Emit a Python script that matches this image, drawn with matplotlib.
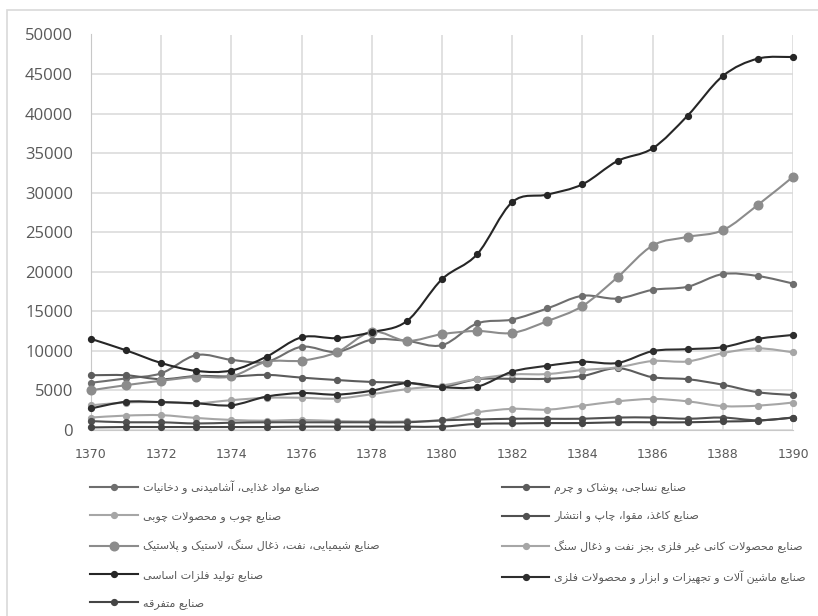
import numpy as np
import matplotlib
matplotlib.use("Agg")
import matplotlib.pyplot as plt
from matplotlib.path import Path
from matplotlib.patches import PathPatch, Rectangle
from matplotlib.lines import Line2D

years = list(range(1370, 1391))

food = [5950, 6500, 7150, 9450, 8850, 8600, 10500, 9850, 11400, 11250, 10700,
        13450, 13950, 15350, 16950, 16600, 17700, 18100, 19700, 19450, 18500]
textile = [6900, 6900, 6400, 6800, 6750, 6950, 6600, 6300, 6050, 5950, 5450,
           6400, 6450, 6450, 6800, 7800, 6650, 6400, 5700, 4750, 4400]
wood = [1550, 1800, 1850, 1500, 1250, 1150, 1250, 1100, 1050, 1050, 1200,
        2200, 2650, 2550, 3050, 3600, 3900, 3600, 3000, 3050, 3450]
paper = [1100, 950, 950, 800, 900, 950, 950, 950, 950, 950, 1200,
         1300, 1400, 1400, 1400, 1550, 1550, 1400, 1550, 1200, 1550]
chemical = [5000, 5650, 6200, 6700, 6750, 8600, 8750, 9800, 12400, 11250, 12100,
            12500, 12250, 13750, 15650, 19300, 23300, 24400, 25250, 28450, 32000]
nonmetal = [3100, 3450, 3500, 3350, 3750, 4050, 4050, 3950, 4500, 5150, 5600,
            6450, 7000, 7050, 7550, 7900, 8700, 8650, 9700, 10300, 9800]
basic = [11500, 10050, 8450, 7450, 7500, 9250, 11700, 11600, 12350, 13750, 19050,
         22200, 28800, 29750, 31050, 34000, 35600, 39750, 44750, 46950, 47150]
machinery = [2700, 3550, 3500, 3350, 3100, 4200, 4650, 4450, 4950, 5900, 5400,
             5450, 7350, 8100, 8600, 8450, 9950, 10200, 10450, 11500, 12000]
misc = [300, 350, 350, 350, 350, 350, 400, 400, 400, 400, 400,
        750, 800, 850, 850, 950, 950, 950, 1050, 1150, 1550]

labels = [
    "صنایع مواد غذایی، آشامیدنی و دخانیات",
    "صنایع نساجی، پوشاک و چرم",
    "صنایع چوب و محصولات چوبی",
    "صنایع کاغذ، مقوا، چاپ و انتشار",
    "صنایع شیمیایی، نفت، ذغال سنگ، لاستیک و پلاستیک",
    "صنایع محصولات کانی غیر فلزی بجز نفت و ذغال سنگ",
    "صنایع تولید فلزات اساسی",
    "صنایع ماشین آلات و تجهیزات و ابزار و محصولات فلزی",
    "صنایع متفرقه",
]
series = [food, textile, wood, paper, chemical, nonmetal, basic, machinery, misc]
colors = ["#6e6e6e", "#5c5c5c", "#a6a6a6", "#505050", "#8c8c8c",
          "#a6a6a6", "#262626", "#2e2e2e", "#454545"]
msizes = [4.2, 4.2, 4.2, 4.2, 6.2, 4.2, 4.2, 4.2, 4.2]

# (isolated, final, initial, medial) presentation forms
FORMS = {
    "ا": ("\uFE8D", "\uFE8E", None, None),
    "آ": ("\uFE81", "\uFE82", None, None),
    "ب": ("\uFE8F", "\uFE90", "\uFE91", "\uFE92"),
    "پ": ("\uFB56", "\uFB57", "\uFB58", "\uFB59"),
    "ت": ("\uFE95", "\uFE96", "\uFE97", "\uFE98"),
    "ج": ("\uFE9D", "\uFE9E", "\uFE9F", "\uFEA0"),
    "چ": ("\uFB7A", "\uFB7B", "\uFB7C", "\uFB7D"),
    "ح": ("\uFEA1", "\uFEA2", "\uFEA3", "\uFEA4"),
    "خ": ("\uFEA5", "\uFEA6", "\uFEA7", "\uFEA8"),
    "د": ("\uFEA9", "\uFEAA", None, None),
    "ذ": ("\uFEAB", "\uFEAC", None, None),
    "ر": ("\uFEAD", "\uFEAE", None, None),
    "ز": ("\uFEAF", "\uFEB0", None, None),
    "س": ("\uFEB1", "\uFEB2", "\uFEB3", "\uFEB4"),
    "ش": ("\uFEB5", "\uFEB6", "\uFEB7", "\uFEB8"),
    "ص": ("\uFEB9", "\uFEBA", "\uFEBB", "\uFEBC"),
    "ع": ("\uFEC9", "\uFECA", "\uFECB", "\uFECC"),
    "غ": ("\uFECD", "\uFECE", "\uFECF", "\uFED0"),
    "ف": ("\uFED1", "\uFED2", "\uFED3", "\uFED4"),
    "ق": ("\uFED5", "\uFED6", "\uFED7", "\uFED8"),
    "ک": ("\uFB8E", "\uFB8F", "\uFB90", "\uFB91"),
    "گ": ("\uFB92", "\uFB93", "\uFB94", "\uFB95"),
    "ل": ("\uFEDD", "\uFEDE", "\uFEDF", "\uFEE0"),
    "م": ("\uFEE1", "\uFEE2", "\uFEE3", "\uFEE4"),
    "ن": ("\uFEE5", "\uFEE6", "\uFEE7", "\uFEE8"),
    "و": ("\uFEED", "\uFEEE", None, None),
    "ه": ("\uFEE9", "\uFEEA", "\uFEEB", "\uFEEC"),
    "ی": ("\uFBFC", "\uFBFD", "\uFBFE", "\uFBFF"),
}
LAM_ALEF = {"ا": ("\uFEFB", "\uFEFC"), "آ": ("\uFEF5", "\uFEF6")}


def shape(text):
    out = []
    i = 0
    n = len(text)
    while i < n:
        c = text[i]
        if c not in FORMS:
            out.append(c)
            i += 1
            continue
        prev = text[i - 1] if i > 0 else ""
        joins_prev = prev in FORMS and FORMS[prev][2] is not None
        nxt = text[i + 1] if i + 1 < n else ""
        if c == "ل" and nxt in LAM_ALEF:
            out.append(LAM_ALEF[nxt][1 if joins_prev else 0])
            i += 2
            continue
        joins_next = FORMS[c][2] is not None and nxt in FORMS
        iso, fin, ini, med = FORMS[c]
        if joins_prev and joins_next:
            out.append(med)
        elif joins_prev:
            out.append(fin)
        elif joins_next:
            out.append(ini)
        else:
            out.append(iso)
        i += 1
    return "".join(out)[::-1]


def smooth_path(xs, ys):
    pts = np.column_stack([xs, ys]).astype(float)
    verts = [pts[0]]
    codes = [Path.MOVETO]
    n = len(pts)
    for i in range(n - 1):
        p0 = pts[i - 1] if i > 0 else pts[i]
        p1, p2 = pts[i], pts[i + 1]
        p3 = pts[i + 2] if i + 2 < n else p2
        verts += [p1 + (p2 - p0) / 6, p2 - (p3 - p1) / 6, p2]
        codes += [Path.CURVE4] * 3
    return Path(verts, codes)


fig = plt.figure(figsize=(8.18, 6.16), dpi=100)
ax = fig.add_axes([91 / 818, 1 - 429.8 / 616, 702 / 818, 395.3 / 616])

# outer chart border
fig.patches.append(Rectangle((7 / 818, -0.02), 1.0, 1 - 10 / 616 + 0.02,
                             transform=fig.transFigure, fill=False,
                             edgecolor="#d9d9d9", lw=1.2))

handles = []
for vals, col, ms in zip(series, colors, msizes):
    ax.add_patch(PathPatch(smooth_path(years, vals), fill=False,
                           edgecolor=col, lw=1.5, capstyle="round"))
    ax.plot(years, vals, "o", color=col, ms=ms, clip_on=False, zorder=3)
    handles.append(Line2D([], [], color=col, lw=1.5, marker="o", ms=ms))

ax.set_xlim(1370, 1390)
ax.set_ylim(0, 50000)
ax.set_xticks(range(1370, 1391, 2))
ax.set_yticks(range(0, 50001, 5000))
ax.grid(True, color="#d9d9d9", lw=1.1)
ax.set_axisbelow(True)
for s in ["top", "right"]:
    ax.spines[s].set_visible(False)
for s in ["left", "bottom"]:
    ax.spines[s].set_color("#c8c8c8")
ax.tick_params(axis="y", length=0, pad=13, labelsize=12, labelcolor="#595959")
ax.tick_params(axis="x", length=0, pad=13, labelsize=9, labelcolor="#595959")
for t in ax.get_yticklabels():
    t.set_family(["Open Sans", "DejaVu Sans"])
for t in ax.get_xticklabels():
    t.set_family(["Liberation Sans Narrow", "DejaVu Sans"])

# legend rows read left to right, right-hand column one entry shorter
order = [0, 2, 4, 6, 8, 1, 3, 5, 7]
fig.legend([handles[i] for i in order], [shape(labels[i]) for i in order],
           ncol=2, loc="upper left", bbox_to_anchor=(90 / 818, 1 - 480 / 616),
           frameon=False, labelcolor="#595959",
           handlelength=4.3, handletextpad=0.45, labelspacing=1.57,
           columnspacing=11.0, borderpad=0, borderaxespad=0,
           prop={"family": ["DejaVu Sans"], "size": 8})

fig.savefig("out.png", dpi=100)
